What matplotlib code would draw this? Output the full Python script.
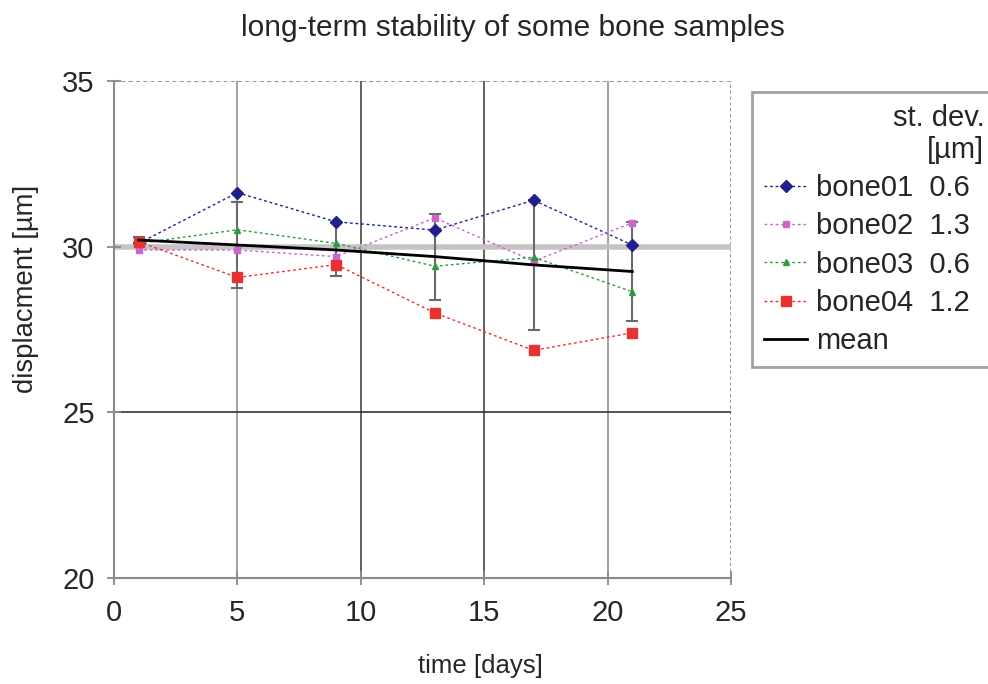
import matplotlib
matplotlib.use("Agg")
import matplotlib.pyplot as plt

plt.rcParams['font.family'] = ['Liberation Sans', 'DejaVu Sans']

days = [1, 5, 9, 13, 17, 21]
bone01 = [30.1, 31.63, 30.75, 30.5, 31.4, 30.05]
bone02 = [29.9, 29.9, 29.7, 30.87, 29.56, 30.72]
bone03 = [30.1, 30.51, 30.1, 29.41, 29.68, 28.64]
bone04 = [30.15, 29.07, 29.46, 28.0, 26.87, 27.4]
mean_vals = [30.2, 30.05, 29.9, 29.7, 29.45, 29.25]
mean_err = [0.1, 1.3, 0.8, 1.3, 1.97, 1.5]
stdev_labels = ["0.6", "1.3", "0.6", "1.2"]
names = ["bone01", "bone02", "bone03", "bone04"]

xticks = [0, 5, 10, 15, 20, 25]
yticks = [20, 25, 30, 35]

txt = '#262626'
fig = plt.figure(figsize=(9.88, 6.84), dpi=100)
ax = fig.add_axes([114/988, 1-578/684, 617/988, 497/684])
ax.set_xlim(0, 25)
ax.set_ylim(20, 35)

# grid
for xv, c in zip([5, 10, 15, 20], ['#9a9a9a', '#555555', '#555555', '#9a9a9a']):
    ax.axvline(xv, color=c, lw=1.3, zorder=1)
ax.axvline(25, color='#888888', lw=1.2, ls=(0, (2, 1.5)), zorder=1)
ax.axhline(30, color='#c4c4c4', lw=4, zorder=1)
ax.axhline(25, color='#333333', lw=1.2, zorder=1)
ax.axhline(35, color='#999999', lw=1.5, ls=(0, (2, 1.5)), zorder=1)

for s in ['top', 'right']:
    ax.spines[s].set_visible(False)
for s in ['left', 'bottom']:
    ax.spines[s].set_color('#8a8a8a')
    ax.spines[s].set_linewidth(1.5)

colors = ['#20208a', '#cc66cc', '#2f9a3f', '#e83232']
markers = ['D', 's', '^', 's']
msizes = [6.5, 4, 4.5, 6.5]
series = [bone01, bone02, bone03, bone04]
handles = []
for vals, c, m, ms, nm, sd in zip(series, colors, markers, msizes, names, stdev_labels):
    ln, = ax.plot(days, vals, color=c, lw=1.0, ls=(0, (2, 2)), marker=m, ms=ms,
                  mec=c, mfc=c, zorder=4, label=f"{nm}  {sd}")
    handles.append(ln)

ax.errorbar(days, mean_vals, yerr=mean_err, fmt='none', ecolor='#6a6a6a',
            elinewidth=1.5, capsize=4, capthick=1.5, zorder=3)
mln, = ax.plot(days, mean_vals, color='black', lw=2, zorder=5, label='mean')
handles.append(mln)

ax.set_xticks(xticks)
ax.set_yticks(yticks)
ax.tick_params(axis='both', direction='inout', length=10, width=1.3,
               color='#8a8a8a', labelsize=21, labelcolor=txt)
ax.tick_params(axis='y', pad=9)
ax.tick_params(axis='x', pad=10)

fig.text(513/988, 1-28/684, "long-term stability of some bone samples",
         ha='center', va='center', fontsize=21.5, color=txt)
fig.text(480/988, 1-666/684, "time [days]", ha='center', va='center',
         fontsize=18.5, color=txt)
fig.text(26/988, 1-289/684, "displacment [µm]", ha='center', va='center',
         rotation=90, fontsize=19.8, color=txt)

leg = ax.legend(handles=handles, loc='upper left',
                bbox_to_anchor=(752/988, 1-92/684, 244/988, 0.0),
                bbox_transform=fig.transFigure, mode='expand',
                fontsize=21, title="st. dev.\n[µm]", title_fontsize=21,
                alignment='right', frameon=True, fancybox=False,
                edgecolor='#8a8a8a', borderpad=0.4, labelspacing=0.35,
                handlelength=1.5, handletextpad=0.3, borderaxespad=0)
leg.get_frame().set_linewidth(2)
for t in leg.get_texts():
    t.set_color(txt)
leg.get_title().set_color(txt)
leg.get_title().set_multialignment('right')

fig.savefig("out.png", dpi=100)
